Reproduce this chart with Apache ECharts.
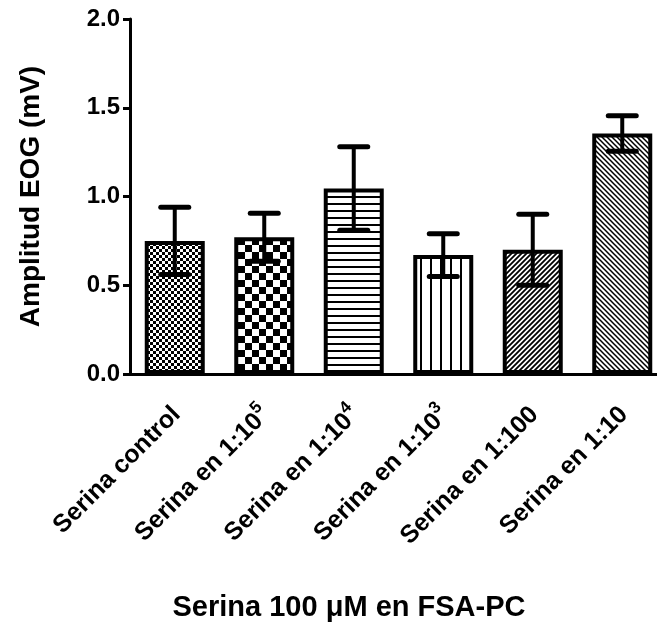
<!DOCTYPE html>
<html>
<head>
<meta charset="utf-8">
<script src="https://cdn.jsdelivr.net/npm/echarts@6/dist/echarts.min.js"></script>
<style>
    html, body { margin: 0; padding: 0; background: #fff; }
    #chart { width: 657px; height: 636px; }
</style>
</head>
<body>
<div id="chart"></div>
<script>
// 数据
var categories = ['Serina control', 'Serina en 1:10^5', 'Serina en 1:10^4', 'Serina en 1:10^3', 'Serina en 1:100', 'Serina en 1:10'];
var means = [0.75, 0.77, 1.045, 0.67, 0.70, 1.355];
var errors = [0.19, 0.135, 0.235, 0.12, 0.20, 0.10];
var yTicks = [0, 0.5, 1.0, 1.5, 2.0];
var patterns = ['checkFine', 'checkCoarse', 'hlines', 'vlines', 'diagUp', 'diagDown'];

var FONT = 'Liberation Sans';

// 生成填充纹理
function makePattern(kind) {
    var c = document.createElement('canvas');
    var ctx, s;
    if (kind === 'checkFine' || kind === 'checkCoarse') {
        s = kind === 'checkFine' ? 3 : 7;
        c.width = c.height = s * 2;
        ctx = c.getContext('2d');
        ctx.fillStyle = '#fff';
        ctx.fillRect(0, 0, s * 2, s * 2);
        ctx.fillStyle = '#000';
        ctx.fillRect(0, 0, s, s);
        ctx.fillRect(s, s, s, s);
    } else if (kind === 'hlines') {
        c.width = 8; c.height = 7;
        ctx = c.getContext('2d');
        ctx.fillStyle = '#fff';
        ctx.fillRect(0, 0, 8, 7);
        ctx.fillStyle = '#000';
        ctx.fillRect(0, 0, 8, 2);
    } else if (kind === 'vlines') {
        c.width = 10; c.height = 8;
        ctx = c.getContext('2d');
        ctx.fillStyle = '#fff';
        ctx.fillRect(0, 0, 10, 8);
        ctx.fillStyle = '#000';
        ctx.fillRect(0, 0, 2, 8);
    } else {
        s = 5;
        c.width = c.height = s;
        ctx = c.getContext('2d');
        ctx.fillStyle = '#fff';
        ctx.fillRect(0, 0, s, s);
        ctx.strokeStyle = '#000';
        ctx.lineWidth = kind === 'diagUp' ? 1.8 : 1.5;
        ctx.beginPath();
        if (kind === 'diagUp') {
            ctx.moveTo(0, s); ctx.lineTo(s, 0);
            ctx.moveTo(-1, 1); ctx.lineTo(1, -1);
            ctx.moveTo(s - 1, s + 1); ctx.lineTo(s + 1, s - 1);
        } else {
            ctx.moveTo(0, 0); ctx.lineTo(s, s);
            ctx.moveTo(-1, s - 1); ctx.lineTo(1, s + 1);
            ctx.moveTo(s - 1, -1); ctx.lineTo(s + 1, 1);
        }
        ctx.stroke();
    }
    return { image: c, repeat: 'repeat' };
}

var chart = echarts.init(document.getElementById('chart'));

var option = {
    backgroundColor: '#fff',
    animation: false,
    grid: { left: 130, top: 19, right: -10, bottom: 262, outerBoundsMode: 'none', containLabel: false },
    xAxis: {
        type: 'category',
        data: categories,
        axisLine: { lineStyle: { color: '#000', width: 3 } },
        axisTick: { alignWithLabel: true, length: 9, lineStyle: { color: '#000', width: 3 } },
        axisLabel: {
            rotate: 45,
            margin: 35,
            interval: 0,
            formatter: function (v) {
                var p = v.split('^');
                return p.length > 1 ? '{a|' + p[0] + '}{s|' + p[1] + '}' : '{a|' + v + '}';
            },
            rich: {
                a: { fontFamily: FONT, fontWeight: 'bold', fontSize: 25, color: '#000', lineHeight: 30, verticalAlign: 'bottom' },
                s: { fontFamily: FONT, fontWeight: 'bold', fontSize: 17, color: '#000', lineHeight: 17, verticalAlign: 'top' }
            }
        }
    },
    yAxis: {
        type: 'value',
        min: 0,
        max: 2,
        interval: 0.5,
        name: 'Amplitud EOG (mV)',
        nameLocation: 'middle',
        nameGap: 85,
        nameTextStyle: { fontFamily: FONT, fontWeight: 'bold', fontSize: 28, color: '#000' },
        axisLine: { show: true, lineStyle: { color: '#000', width: 3 } },
        axisTick: { show: true, length: 7, lineStyle: { color: '#000', width: 3 } },
        splitLine: { show: false },
        axisLabel: {
            margin: 10,
            fontFamily: FONT, fontWeight: 'bold', fontSize: 24, color: '#000',
            formatter: function (v) { return v.toFixed(1); }
        }
    },
    graphic: [{
        type: 'text',
        x: 349,
        y: 608,
        style: {
            text: 'Serina 100 μM en FSA-PC', fontFamily: FONT, fontWeight: 'bold', fontSize: 29, fill: '#000',
            align: 'center', verticalAlign: 'middle'
        }
    }],
    series: [{
        type: 'bar',
        barWidth: 60,
        data: means.map(function (m, i) {
            return { value: m, itemStyle: { color: makePattern(patterns[i]), borderColor: '#000', borderWidth: 4 } };
        })
    }, {
        type: 'custom',
        z: 10,
        renderItem: function (params, api) {
            var x = api.value(0), m = api.value(1), e = api.value(2);
            var top = api.coord([x, m + e]);
            var bot = api.coord([x, m - e]);
            var hw = 14;
            var st = { stroke: '#000', lineWidth: 5, lineCap: 'round' };
            return {
                type: 'group',
                children: [
                    { type: 'line', shape: { x1: top[0], y1: top[1], x2: bot[0], y2: bot[1] }, style: { stroke: '#000', lineWidth: 4 } },
                    { type: 'line', shape: { x1: top[0] - hw, y1: top[1], x2: top[0] + hw, y2: top[1] }, style: st },
                    { type: 'line', shape: { x1: bot[0] - hw, y1: bot[1], x2: bot[0] + hw, y2: bot[1] }, style: st }
                ]
            };
        },
        data: means.map(function (m, i) { return [i, m, errors[i]]; })
    }]
};

chart.setOption(option);
</script>
</body>
</html>
